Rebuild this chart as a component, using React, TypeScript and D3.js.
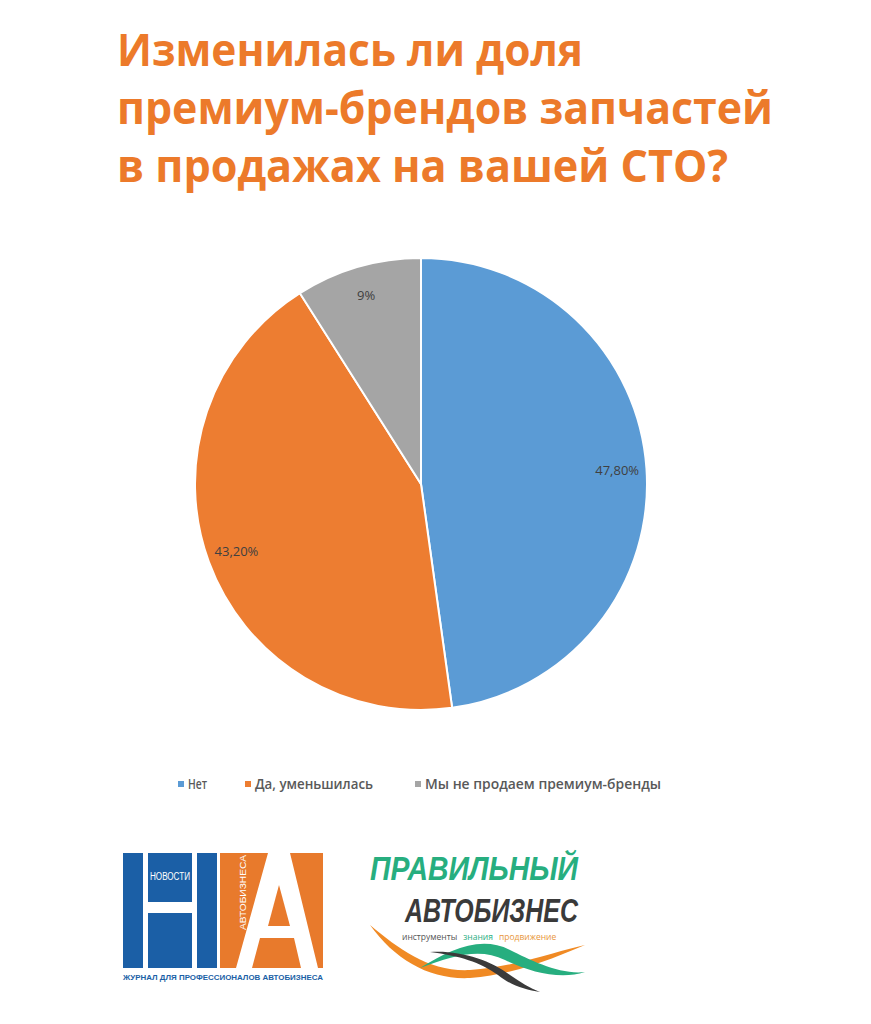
import React from "react";
import * as d3 from "d3";

const categories = ["Нет", "Да, уменьшилась", "Мы не продаем премиум-бренды"];
const values = [47.8, 43.2, 9];
const valueLabels = ["47,80%", "43,20%", "9%"];
const colors = ["#5B9BD5", "#ED7D31", "#A5A5A5"];
const titleLines = ["Изменилась ли доля", "премиум-брендов запчастей", "в продажах на вашей СТО?"];

const W = 871;
const H = 1024;
const cx = 421;
const cy = 484;
const R = 226;

export default function App() {
  const pie = d3.pie<number>().sort(null).value((d) => d);
  const arcs = pie(values);
  const arc = d3.arc<d3.PieArcDatum<number>>().innerRadius(0).outerRadius(R);
  const labelArc = d3.arc<d3.PieArcDatum<number>>().innerRadius(R * 0.87).outerRadius(R * 0.87);

  const titleWidths = [466, 656, 611];
  const legendX = [178, 245, 415];
  const legendW = [29, 128, 246];

  return (
    <svg width={W} height={H} style={{ position: "absolute", left: 0, top: 0, background: "#fff" }}>
      <rect width={W} height={H} fill="#fff" />
      {titleLines.map((t, i) => (
        <text
          key={i}
          x={117}
          y={66 + i * 58}
          fill="#EC7A2A"
          fontFamily="'Open Sans', sans-serif"
          fontWeight={700}
          fontSize={44}
          textLength={titleWidths[i]}
          lengthAdjust="spacingAndGlyphs"
        >
          {t}
        </text>
      ))}
      <g transform={`translate(${cx},${cy})`}>
        {arcs.map((a, i) => (
          <path key={i} d={arc(a) || ""} fill={colors[i]} stroke="#fff" strokeWidth={2} />
        ))}
        {arcs.map((a, i) => {
          const [x, y] = labelArc.centroid(a);
          return (
            <text
              key={i}
              x={x}
              y={y + 4.5}
              textAnchor="middle"
              fill="#404040"
              fontFamily="'Open Sans', sans-serif"
              fontSize={13}
            >
              {valueLabels[i]}
            </text>
          );
        })}
      </g>
      {categories.map((c, i) => (
        <g key={i}>
          <rect x={legendX[i]} y={781} width={6} height={6} fill={colors[i]} />
          <text
            x={legendX[i] + 10}
            y={789}
            fill="#595959"
            fontFamily="'Open Sans', sans-serif"
            fontSize={13.5}
            fontWeight={600}
            textLength={legendW[i] - 10}
            lengthAdjust="spacingAndGlyphs"
          >
            {c}
          </text>
        </g>
      ))}
      {/* Left logo */}
      <g>
        <rect x={123} y={853} width={94} height={115} fill="#1B5FA6" />
        <rect x={143} y={853} width={5} height={115} fill="#fff" />
        <rect x={192} y={853} width={5} height={115} fill="#fff" />
        <rect x={148} y={902} width={44} height={11} fill="#fff" />
        <text x={170} y={880} textAnchor="middle" fill="#fff" fontFamily="'Liberation Sans Narrow', 'Liberation Sans', sans-serif" fontSize={10} textLength={40} lengthAdjust="spacingAndGlyphs">НОВОСТИ</text>
        <rect x={220} y={853} width={103} height={115} fill="#E87A2C" />
        <polygon points="268,853 290,853 318,968 301,968 294,938 260,938 252,968 236,968" fill="#fff" />
        <polygon points="279,885 268,926 290,926" fill="#E87A2C" />
        <text transform="translate(246,930) rotate(-90)" fill="#fff" fontFamily="'Liberation Sans Narrow', 'Liberation Sans', sans-serif" fontSize={9} textLength={75} lengthAdjust="spacingAndGlyphs">АВТОБИЗНЕСА</text>
        <text x={123} y={980} fill="#1B5FA6" fontFamily="'Liberation Sans', sans-serif" fontWeight={700} fontSize={8} textLength={200} lengthAdjust="spacingAndGlyphs">ЖУРНАЛ ДЛЯ ПРОФЕССИОНАЛОВ АВТОБИЗНЕСА</text>
      </g>
      {/* Right logo */}
      <g>
        <text x={370} y={880} fill="#27AE7F" fontFamily="'Liberation Sans Narrow', 'Liberation Sans', sans-serif" fontWeight={700} fontStyle="italic" fontSize={34} textLength={208} lengthAdjust="spacingAndGlyphs">ПРАВИЛЬНЫЙ</text>
        <text x={405} y={922} fill="#3A3A3A" fontFamily="'Liberation Sans Narrow', 'Liberation Sans', sans-serif" fontWeight={700} fontStyle="italic" fontSize={34} textLength={173} lengthAdjust="spacingAndGlyphs">АВТОБИЗНЕС</text>
        <text x={402} y={940} fontFamily="'Open Sans', sans-serif" fontSize={8.5}>
          <tspan fill="#555">инструменты</tspan>
          <tspan fill="#27AE7F" dx={6}>знания</tspan>
          <tspan fill="#E8963A" dx={6}>продвижение</tspan>
        </text>
        <path d="M370,925 C400,950 430,972 470,970 C520,966 560,950 585,945 C560,955 520,974 470,978 C430,980 395,960 370,925 Z" fill="#F08A24" />
        <path d="M420,968 C450,950 480,935 510,950 C530,960 560,975 585,972 C560,980 530,972 505,960 C480,948 455,955 420,968 Z" fill="#27AE7F" />
        <path d="M430,952 C460,950 490,960 510,975 C520,982 530,988 540,992 C525,990 510,985 498,975 C480,962 460,956 430,952 Z" fill="#3A3A3A" />
      </g>
    </svg>
  );
}
